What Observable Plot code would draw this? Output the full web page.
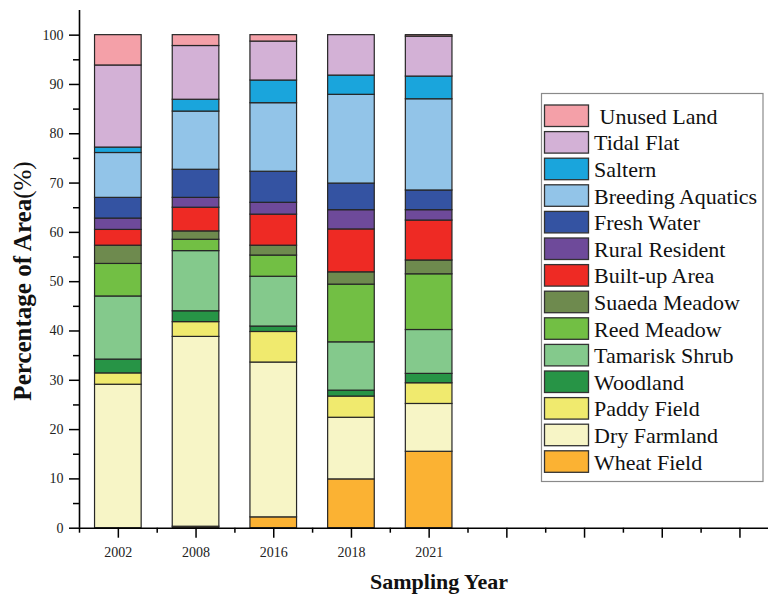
<!DOCTYPE html>
<html>
<head>
<meta charset="utf-8">
<script src="https://cdn.jsdelivr.net/npm/d3@7"></script>
<script src="https://cdn.jsdelivr.net/npm/@observablehq/plot@0.6"></script>
<style>
  html, body { margin: 0; padding: 0; background: #fff; overflow: hidden; }
  #chart svg { display: block; }
</style>
</head>
<body>
<div id="chart"></div>
<script>
// ---- data ----
const years = ["2002", "2008", "2016", "2018", "2021"];
const emptySlots = ["_s6", "_s7", "_s8", "_s9"];          // unlabeled ticks on the axis
const categories = [                                    // bottom -> top
  "Wheat Field", "Dry Farmland", "Paddy Field", "Woodland", "Tamarisk Shrub",
  "Reed Meadow", "Suaeda Meadow", "Built-up Area", "Rural Resident", "Fresh Water",
  "Breeding Aquatics", "Saltern", "Tidal Flat", "Unused Land"
];
const colors = [
  "#FBB233", "#F7F5C6", "#F0EA6E", "#279446", "#84C98C",
  "#72BF44", "#6E8A4E", "#EE2A24", "#6E4A9A", "#3453A2",
  "#92C4E8", "#1AA5DC", "#D3B1D6", "#F4A0A8"
];
const legendLabels = [                                  // top -> bottom, as printed
  " Unused Land", "Tidal Flat", "Saltern", "Breeding Aquatics", "Fresh Water",
  "Rural Resident", "Built-up Area", "Suaeda Meadow", "Reed Meadow", "Tamarisk Shrub",
  "Woodland", "Paddy Field", "Dry Farmland", "Wheat Field"
];
// values (% of area) per year: 2002, 2008, 2016, 2018, 2021
const wheatField       = [0.0, 0.3, 2.2, 9.9, 15.5];
const dryFarmland      = [29.1, 38.5, 31.4, 12.5, 9.7];
const paddyField       = [2.3, 3.0, 6.2, 4.3, 4.2];
const woodland         = [2.8, 2.2, 1.1, 1.2, 1.9];
const tamariskShrub    = [12.8, 12.2, 10.1, 9.8, 8.9];
const reedMeadow       = [6.6, 2.3, 4.3, 11.7, 11.3];
const suaedaMeadow     = [3.7, 1.7, 2.0, 2.5, 2.8];
const builtUpArea      = [3.2, 4.8, 6.3, 8.7, 8.1];
const ruralResident    = [2.3, 2.0, 2.4, 3.9, 2.1];
const freshWater       = [4.2, 5.7, 6.3, 5.4, 4.0];
const breedingAquatics = [9.1, 11.8, 13.9, 18.0, 18.5];
const saltern          = [1.1, 2.4, 4.6, 3.9, 4.6];
const tidalFlat        = [16.65, 10.9, 7.9, 8.2, 8.1];
const unusedLand       = [6.15, 2.2, 1.3, 0.0, 0.3];
const yTicks = [0, 10, 20, 30, 40, 50, 60, 70, 80, 90, 100];
const yMinorTicks = [5, 15, 25, 35, 45, 55, 65, 75, 85, 95];

const series = [wheatField, dryFarmland, paddyField, woodland, tamariskShrub, reedMeadow,
  suaedaMeadow, builtUpArea, ruralResident, freshWater, breedingAquatics, saltern, tidalFlat, unusedLand];

const rows = [];
categories.forEach((cat, ci) => years.forEach((yr, yi) => rows.push({year: yr, cat, value: series[ci][yi]})));

// ---- layout ----
const W = 768, H = 597;
const slots = [...years, ...emptySlots];
const x0 = 79, step = 77.7;
const yBottom = 527.7;

const chart = Plot.plot({
  width: W, height: H,
  marginLeft: x0, marginRight: 0, marginTop: 10, marginBottom: H - yBottom,
  style: {fontFamily: "'Liberation Serif', 'Times New Roman', serif", fontSize: "14px", color: "#222", background: "white"},
  x: {type: "band", domain: slots, range: [x0, x0 + slots.length * step], paddingInner: 0.4, paddingOuter: 0.2, align: 0.5, round: false},
  y: {domain: [0, 105], range: [yBottom, 10]},
  color: {domain: categories, range: colors},
  marks: [
    Plot.barY(rows, {x: "year", y: "value", fill: "cat", order: categories, stroke: "#262626", strokeWidth: 1.2}),
    Plot.ruleY([0], {stroke: "#000", strokeWidth: 1.6}),
    Plot.ruleX([slots[0]], {dx: -step / 2, y1: 0, y2: 105, stroke: "#000", strokeWidth: 1.6}),
    Plot.axisY({ticks: yTicks, tickSize: 10, tickPadding: 6, tickFormat: d => String(d), label: null, fontSize: 14, stroke: "#000", strokeWidth: 1.5}),
    Plot.axisY({ticks: yMinorTicks, tickSize: 6, tickFormat: () => "", label: null, stroke: "#000", strokeWidth: 1.5}),
    Plot.axisX({ticks: slots, tickSize: 10, tickPadding: 9, tickFormat: d => years.includes(d) ? d : "", label: null, fontSize: 14, stroke: "#000", strokeWidth: 1.5}),
    Plot.ruleX(slots, {x: d => d, dx: -step / 2, y1: 0, y2: 0, insetBottom: -5, stroke: "#000", strokeWidth: 1.5})
  ]
});

const svg = d3.select(chart);

// axis titles
const ylab = svg.append("text")
  .attr("transform", "translate(31,281) rotate(-90)")
  .attr("text-anchor", "middle")
  .attr("font-family", "'Liberation Serif', serif")
  .attr("font-size", 25)
  .attr("fill", "#111");
ylab.append("tspan").attr("font-weight", "bold").text("Percentage of Area");
ylab.append("tspan").text("(%)");

svg.append("text")
  .attr("x", 439).attr("y", 589)
  .attr("text-anchor", "middle")
  .attr("font-family", "'Liberation Serif', serif")
  .attr("font-size", 22)
  .attr("font-weight", "bold")
  .attr("fill", "#111")
  .text("Sampling Year");

// legend
const lg = svg.append("g").attr("font-family", "'Liberation Serif', serif").attr("font-size", 22).attr("text-anchor", "start");
lg.append("rect").attr("x", 541.5).attr("y", 93.5).attr("width", 221.5).attr("height", 388)
  .attr("fill", "white").attr("stroke", "#8a8a8a").attr("stroke-width", 1.2);
const colorOf = Object.fromEntries(categories.map((c, i) => [c, colors[i]]));
const topFirst = [...categories].reverse();
topFirst.forEach((cat, i) => {
  const cy = 116 + i * 26.6;
  lg.append("rect").attr("x", 544.5).attr("y", cy - 11).attr("width", 44).attr("height", 21.5)
    .attr("fill", colorOf[cat]).attr("stroke", "#333").attr("stroke-width", 1.3);
  lg.append("text").attr("x", 594).attr("y", cy).attr("dy", "0.35em").attr("text-anchor", "start")
    .attr("fill", "#111").style("white-space", "pre").text(legendLabels[i]);
});

document.getElementById("chart").appendChild(chart);
</script>
</body>
</html>
